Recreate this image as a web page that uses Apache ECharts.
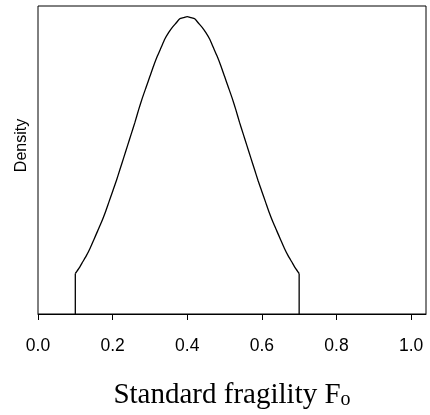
<!DOCTYPE html>
<html>
<head>
<meta charset="utf-8">
<script src="https://cdn.jsdelivr.net/npm/echarts@6/dist/echarts.min.js"></script>
<style>
  html, body { margin: 0; padding: 0; background: #fff; }
  #chart { width: 430px; height: 415px; }
</style>
</head>
<body>
<div id="chart"></div>
<script>
// Standard fragility values (x) and estimated density (y)
const fragility = [0.10, 0.11, 0.12, 0.13, 0.14, 0.15, 0.16, 0.17, 0.18, 0.19,
                   0.20, 0.21, 0.22, 0.23, 0.24, 0.25, 0.26, 0.27, 0.28, 0.29,
                   0.30, 0.31, 0.32, 0.33, 0.34, 0.35, 0.36, 0.37, 0.38, 0.39,
                   0.40, 0.41, 0.42, 0.43, 0.44, 0.45, 0.46, 0.47, 0.48, 0.49,
                   0.50, 0.51, 0.52, 0.53, 0.54, 0.55, 0.56, 0.57, 0.58, 0.59,
                   0.60, 0.61, 0.62, 0.63, 0.64, 0.65, 0.66, 0.67, 0.68, 0.69, 0.70];
const density = [0.38, 0.43, 0.49, 0.55, 0.62, 0.70, 0.78, 0.86, 0.95, 1.05,
                 1.15, 1.25, 1.36, 1.47, 1.58, 1.69, 1.80, 1.92, 2.03, 2.13,
                 2.23, 2.33, 2.42, 2.50, 2.58, 2.64, 2.69, 2.73, 2.77, 2.78,
                 2.79, 2.78, 2.77, 2.73, 2.69, 2.64, 2.58, 2.50, 2.42, 2.33,
                 2.23, 2.13, 2.03, 1.92, 1.80, 1.69, 1.58, 1.47, 1.36, 1.25,
                 1.15, 1.05, 0.95, 0.86, 0.78, 0.70, 0.62, 0.55, 0.49, 0.43, 0.38];
// support edges where the density drops to zero
const supportEdges = [0.10, 0.70];
const xTicks = [0.0, 0.2, 0.4, 0.6, 0.8, 1.0];

const curve = fragility.map((x, i) => [x, density[i]]);
const leftEdge = [[supportEdges[0], 0], [supportEdges[0], density[0]]];
const rightEdge = [[supportEdges[1], 0], [supportEdges[1], density[density.length - 1]]];

const lineStyle = { color: '#000', width: 1.3 };

const chart = echarts.init(document.getElementById('chart'), null, { renderer: 'canvas' });
chart.setOption({
  animation: false,
  backgroundColor: '#ffffff',
  grid: {
    left: 38, right: 4, top: 6, bottom: 101,
    show: true, borderColor: '#000', borderWidth: 1, backgroundColor: 'transparent'
  },
  xAxis: {
    type: 'value',
    min: 0, max: 1.04,
    interval: 0.2,
    name: '{a|Standard fragility F}{b|o}',
    nameLocation: 'middle',
    nameGap: 81,
    nameTextStyle: {
      verticalAlign: 'middle',
      rich: {
        a: { fontFamily: 'Liberation Serif', fontSize: 29, color: '#000', lineHeight: 29 },
        b: { fontFamily: 'Liberation Serif', fontSize: 20, color: '#000', lineHeight: 20, verticalAlign: 'bottom' }
      }
    },
    axisLine: { show: true, lineStyle: { color: '#000', width: 1 } },
    axisTick: { show: true, customValues: xTicks, length: 6, inside: false, lineStyle: { color: '#000', width: 1 } },
    axisLabel: {
      customValues: xTicks,
      formatter: v => v.toFixed(1),
      fontFamily: 'Liberation Sans', fontSize: 17.5, color: '#000',
      margin: 32, verticalAlign: 'middle'
    },
    splitLine: { show: false }
  },
  yAxis: {
    type: 'value',
    min: 0, max: 2.89,
    name: 'Density',
    nameLocation: 'middle',
    nameGap: 16,
    nameTextStyle: { fontFamily: 'Liberation Sans', fontSize: 16, color: '#000', verticalAlign: 'middle', padding: [0, 0, 0, 29] },
    axisLine: { show: false },
    axisTick: { show: false },
    axisLabel: { show: false },
    splitLine: { show: false }
  },
  series: [
    { type: 'line', data: curve, symbol: 'none', smooth: 0.2, lineStyle: lineStyle, z: 3 },
    { type: 'line', data: leftEdge, symbol: 'none', lineStyle: lineStyle, z: 3 },
    { type: 'line', data: rightEdge, symbol: 'none', lineStyle: lineStyle, z: 3 }
  ]
});
</script>
</body>
</html>
